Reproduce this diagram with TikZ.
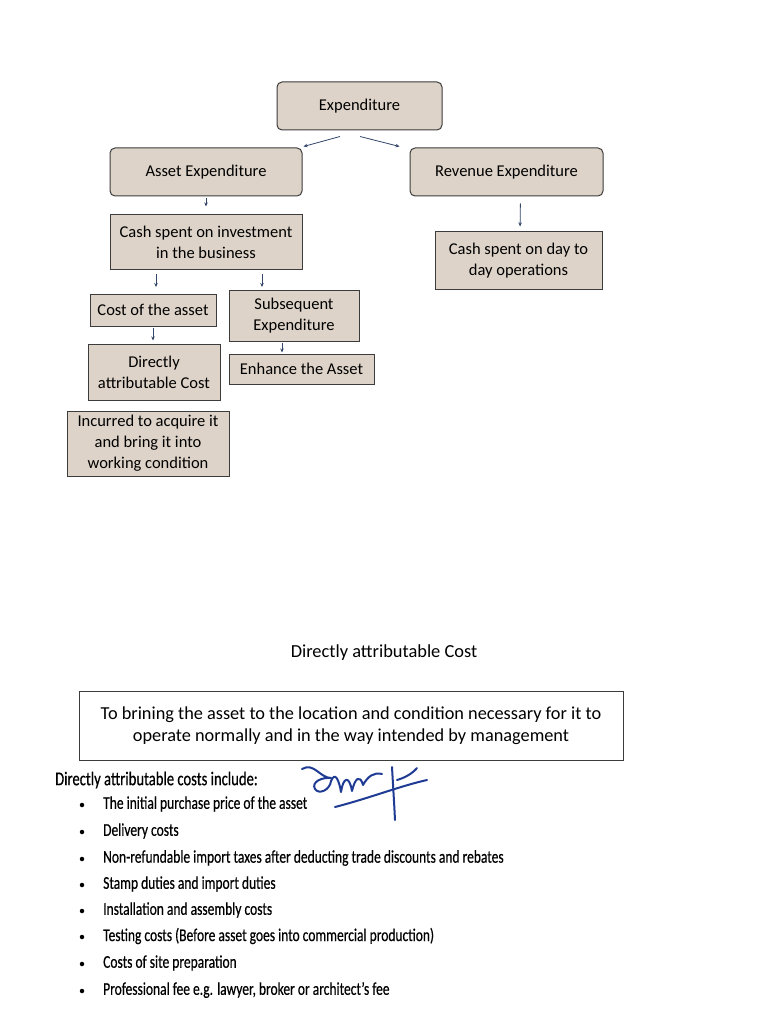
\documentclass[tikz,border=0pt]{standalone}
\usepackage{fontspec}
\setmainfont{Carlito}
\newfontfamily\narrowfont{Carlito}[FakeStretch=0.75,FakeBold=0.4]
\usetikzlibrary{arrows.meta}
\definecolor{tanfill}{HTML}{DDD3C8}
\definecolor{boxline}{HTML}{3C3C3C}
\definecolor{arrowc}{HTML}{34466A}
\definecolor{inkblue}{HTML}{1F3B94}
\tikzset{
  tanround/.style={draw=boxline, line width=1pt, fill=tanfill, rounded corners=5pt, inner sep=0pt, align=center, font=\fontsize{16.5}{21}\selectfont},
  tanbox/.style={draw=boxline, line width=1pt, fill=tanfill, inner sep=0pt, align=center, font=\fontsize{16.5}{21}\selectfont},
  plainbox/.style={draw=boxline, line width=0.8pt, fill=white, inner sep=0pt, align=center, font=\fontsize{18.3}{22}\selectfont},
  arr/.style={draw=arrowc, line width=0.8pt, -{Stealth[length=4pt,width=3.5pt]}},
  listitem/.style={anchor=west, inner sep=0pt, font=\narrowfont\fontsize{18}{20}\selectfont},
  bulletdot/.style={circle, fill=black, inner sep=0pt, minimum size=4.5pt}
}
\begin{document}
\begin{tikzpicture}[x=1pt,y=-1pt]
\useasboundingbox (0,0) rectangle (768,1024);
\fill[white] (0,0) rectangle (768,1024);

% ---------- top diagram ----------
\node[tanround, minimum width=165pt, minimum height=48pt] (exp) at (359.5,106) {Expenditure};
\node[tanround, minimum width=192pt, minimum height=48pt] (ae) at (206,172) {Asset Expenditure};
\node[tanround, minimum width=193pt, minimum height=48pt] (re) at (506.5,172) {Revenue Expenditure};

\node[tanbox, minimum width=192pt, minimum height=54pt] (cash) at (206,242) {Cash spent on investment\\in the business};
\node[tanbox, minimum width=167pt, minimum height=57pt] (day) at (518.5,260.5) {Cash spent on day to\\day operations};

\node[tanbox, minimum width=126pt, minimum height=32pt] (cost) at (153,310) {Cost of the asset};
\node[tanbox, minimum width=130pt, minimum height=51pt] (sub) at (294,315.5) {Subsequent\\Expenditure};
\node[tanbox, minimum width=132pt, minimum height=56pt] (dac) at (154,372) {Directly\\attributable Cost};
\node[tanbox, minimum width=145pt, minimum height=30pt] (enh) at (301.5,369) {Enhance the Asset};
\node[tanbox, minimum width=162pt, minimum height=65pt] (inc) at (148,443.5) {Incurred to acquire it\\and bring it into\\working condition};

% connectors
\draw[arr] ([xshift=-19.5pt,yshift=-6pt]exp.south) -- ([xshift=1pt,yshift=1pt]ae.north east);
\draw[arr] ([xshift=0.5pt,yshift=-6pt]exp.south) -- ([xshift=-10pt,yshift=1pt]re.north west);
\draw[arr, shorten <=2pt, shorten >=8pt] (ae.south) -- (cash.north);
\draw[arr, shorten <=7pt, shorten >=5pt] ([xshift=14pt]re.south) -- ([xshift=1.5pt]day.north);
\coordinate (c1) at (156,287);
\coordinate (c2) at (262,287);
\draw[arr, shorten <=4pt] (cash.south -| c1) -- (c1);
\draw[arr, shorten <=4pt] (cash.south -| c2) -- (c2);
\draw[arr, shorten <=1pt, shorten >=3pt] (cost.south) -- (dac.north -| cost.south);
\coordinate (c3) at ([xshift=-12pt]sub.south);
\draw[arr, shorten <=1pt, shorten >=1pt] (c3) -- (enh.north -| c3);

% ---------- second part ----------
\node[inner sep=0pt, font=\fontsize{18.4}{20}\selectfont] (title) at (384,653) {Directly attributable Cost};
\node[plainbox, minimum width=544pt, minimum height=69pt] (def) at (351,725.5) {To brining the asset to the location and condition necessary for it to\\operate normally and in the way intended by management};

\node[listitem, font=\narrowfont\fontsize{19.5}{21}\selectfont] (inclh) at (55,780) {Directly attributable costs include:};
\foreach \y/\t [count=\i] in {
  804/{The initial purchase price of the asset},
  831/{Delivery costs},
  858/{Non-refundable import taxes after deducting trade discounts and rebates},
  884/{Stamp duties and import duties},
  910/{Installation and assembly costs},
  936/{Testing costs (Before asset goes into commercial production)},
  963/{Costs of site preparation},
  990/{Professional fee e.g. lawyer, broker or architect’s fee}} {
  \node[bulletdot] (b\i) at (82,\y+1) {};
  \node[listitem] (item\i) at (103,\y) {\t};
}

% handwritten signature
\begin{scope}[draw=inkblue, line width=2pt, line cap=round, line join=round]
\draw (302,769) .. controls (314,762) and (320,778) .. (331,778)
      .. controls (322,777) and (311,782) .. (315,789)
      .. controls (319,795) and (330,790) .. (331,781);
\draw (331,781) .. controls (335,771) and (339,780) .. (341,792)
      .. controls (343,778) and (349,774) .. (352,791)
      .. controls (355,778) and (360,774) .. (363,785)
      .. controls (368,776) and (374,772) .. (382,774);
\draw (392,767) .. controls (393,785) and (394,800) .. (395,820);
\draw (335,807) .. controls (370,798) and (400,786) .. (427,780);
\draw (417,768) .. controls (412,774) and (404,778) .. (397,780);
\end{scope}
\end{tikzpicture}
\end{document}
